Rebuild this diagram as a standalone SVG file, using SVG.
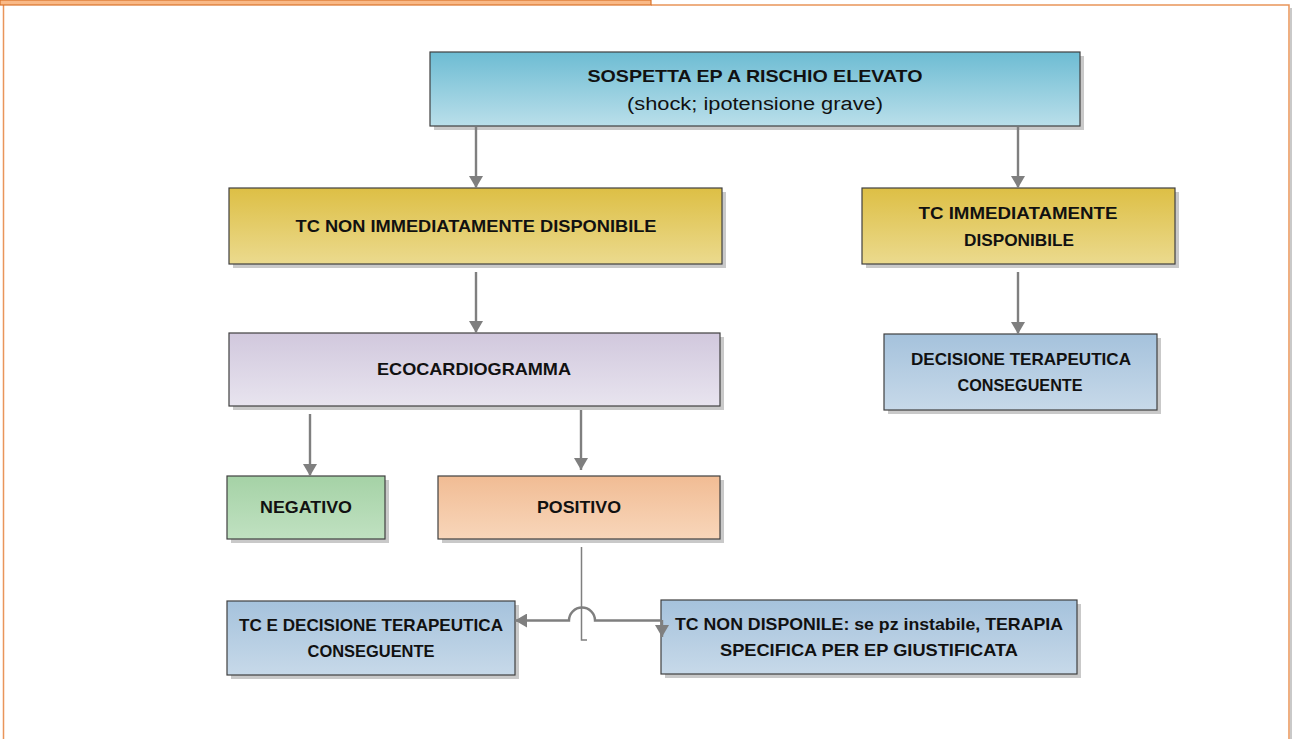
<svg xmlns="http://www.w3.org/2000/svg" width="1292" height="739" viewBox="0 0 1292 739">
  <defs>
    <linearGradient id="gBlue" x1="0" y1="0" x2="0" y2="1">
      <stop offset="0" stop-color="#6DBCD3"/>
      <stop offset="1" stop-color="#BADFEA"/>
    </linearGradient>
    <linearGradient id="gYellow" x1="0" y1="0" x2="0" y2="1">
      <stop offset="0" stop-color="#DDBF45"/>
      <stop offset="1" stop-color="#EBDA8E"/>
    </linearGradient>
    <linearGradient id="gLilac" x1="0" y1="0" x2="0" y2="1">
      <stop offset="0" stop-color="#D1C8DD"/>
      <stop offset="1" stop-color="#E8E4EF"/>
    </linearGradient>
    <linearGradient id="gSteel" x1="0" y1="0" x2="0" y2="1">
      <stop offset="0" stop-color="#A5C2DC"/>
      <stop offset="1" stop-color="#C7D9E9"/>
    </linearGradient>
    <linearGradient id="gGreen" x1="0" y1="0" x2="0" y2="1">
      <stop offset="0" stop-color="#A5D2A6"/>
      <stop offset="1" stop-color="#C0E1C1"/>
    </linearGradient>
    <linearGradient id="gPeach" x1="0" y1="0" x2="0" y2="1">
      <stop offset="0" stop-color="#F1BC94"/>
      <stop offset="1" stop-color="#F8D6BA"/>
    </linearGradient>
    <marker id="arrow" viewBox="0 0 12 14" refX="12" refY="7" markerWidth="13" markerHeight="14" markerUnits="userSpaceOnUse" orient="auto">
      <path d="M0,0 L12,7 L0,14 Z" fill="#7F7F7F"/>
    </marker>
  </defs>
  <style>
    .box { stroke: #404040; stroke-width: 1.2; }
    .shadow { fill: #C9C9C9; }
    .t { font-family: "Liberation Sans", Arial, sans-serif; font-size: 17px; font-weight: bold; fill: #111; text-anchor: middle; }
    .r { font-family: "Liberation Sans", Arial, sans-serif; font-size: 18px; fill: #111; text-anchor: middle; }
    .c { fill: none; stroke: #7F7F7F; stroke-width: 2.4; }
  </style>

  <!-- page frame -->
  <rect x="0" y="0" width="1292" height="739" fill="#FFFFFF"/>
  <g id="frame">
    <rect x="1290" y="8" width="2" height="731" fill="#C9C9C9"/>
    <path d="M3.5,5 V739 M651,5 H1289 V739" fill="none" stroke="#E9955A" stroke-width="1.5"/>
    <rect x="0" y="0" width="651" height="5" fill="#F9B987" stroke="#D9732A" stroke-width="1.2"/>
  </g>

  <!-- nodes -->
  <g id="n-sospetta">
    <rect class="shadow" x="434" y="56" width="650" height="74"/>
    <rect class="box" x="430" y="52" width="650" height="74" fill="url(#gBlue)"/>
    <text class="t" x="755" y="82" textLength="335" lengthAdjust="spacingAndGlyphs">SOSPETTA EP A RISCHIO ELEVATO</text>
    <text class="r" x="755" y="110" textLength="256" lengthAdjust="spacingAndGlyphs">(shock; ipotensione grave)</text>
  </g>

  <g id="n-tc-non">
    <rect class="shadow" x="233" y="192" width="493" height="76"/>
    <rect class="box" x="229" y="188" width="493" height="76" fill="url(#gYellow)"/>
    <text class="t" x="476" y="232" textLength="361" lengthAdjust="spacingAndGlyphs">TC NON IMMEDIATAMENTE DISPONIBILE</text>
  </g>

  <g id="n-tc-imm">
    <rect class="shadow" x="866" y="192" width="313" height="76"/>
    <rect class="box" x="862" y="188" width="313" height="76" fill="url(#gYellow)"/>
    <text class="t" x="1018" y="219" textLength="199" lengthAdjust="spacingAndGlyphs">TC IMMEDIATAMENTE</text>
    <text class="t" x="1019" y="246" textLength="110" lengthAdjust="spacingAndGlyphs">DISPONIBILE</text>
  </g>

  <g id="n-eco">
    <rect class="shadow" x="233" y="337" width="491" height="73"/>
    <rect class="box" x="229" y="333" width="491" height="73" fill="url(#gLilac)"/>
    <text class="t" x="474" y="375" textLength="194" lengthAdjust="spacingAndGlyphs">ECOCARDIOGRAMMA</text>
  </g>

  <g id="n-decisione">
    <rect class="shadow" x="888" y="338" width="273" height="76"/>
    <rect class="box" x="884" y="334" width="273" height="76" fill="url(#gSteel)"/>
    <text class="t" x="1021" y="365" textLength="220" lengthAdjust="spacingAndGlyphs">DECISIONE TERAPEUTICA</text>
    <text class="t" x="1020" y="391" textLength="125" lengthAdjust="spacingAndGlyphs">CONSEGUENTE</text>
  </g>

  <g id="n-negativo">
    <rect class="shadow" x="231" y="480" width="158" height="63"/>
    <rect class="box" x="227" y="476" width="158" height="63" fill="url(#gGreen)"/>
    <text class="t" x="306" y="513" textLength="92" lengthAdjust="spacingAndGlyphs">NEGATIVO</text>
  </g>

  <g id="n-positivo">
    <rect class="shadow" x="442" y="480" width="282" height="63"/>
    <rect class="box" x="438" y="476" width="282" height="63" fill="url(#gPeach)"/>
    <text class="t" x="579" y="513" textLength="84" lengthAdjust="spacingAndGlyphs">POSITIVO</text>
  </g>

  <g id="n-tc-decisione">
    <rect class="shadow" x="231" y="605" width="288" height="74"/>
    <rect class="box" x="227" y="601" width="288" height="74" fill="url(#gSteel)"/>
    <text class="t" x="371" y="631" textLength="264" lengthAdjust="spacingAndGlyphs">TC E DECISIONE TERAPEUTICA</text>
    <text class="t" x="371" y="657" textLength="127" lengthAdjust="spacingAndGlyphs">CONSEGUENTE</text>
  </g>

  <g id="n-tc-nondisp">
    <rect class="shadow" x="665" y="604" width="416" height="74"/>
    <rect class="box" x="661" y="600" width="416" height="74" fill="url(#gSteel)"/>
    <text class="t" x="869" y="630" textLength="388" lengthAdjust="spacingAndGlyphs">TC NON DISPONILE: se pz instabile, TERAPIA</text>
    <text class="t" x="869" y="656" textLength="298" lengthAdjust="spacingAndGlyphs">SPECIFICA PER EP GIUSTIFICATA</text>
  </g>

  <!-- connectors -->
  <g id="connectors">
    <path class="c" d="M476,127 V188" marker-end="url(#arrow)"/>
    <path class="c" d="M1018,127 V188" marker-end="url(#arrow)"/>
    <path class="c" d="M476,272 V333" marker-end="url(#arrow)"/>
    <path class="c" d="M1018,272 V334" marker-end="url(#arrow)"/>
    <path class="c" d="M310,414 V476" marker-end="url(#arrow)"/>
    <path class="c" d="M581,410 V470" marker-end="url(#arrow)"/>
    <path d="M581.5,547 V640 H587" fill="none" stroke="#7F7F7F" stroke-width="1.5"/>
    <path class="c" d="M661,620.5 H595 A13,13 0 0 0 569,620.5 H515" marker-end="url(#arrow)"/>
    <path class="c" d="M662,620 V637" marker-end="url(#arrow)"/>
  </g>
</svg>
